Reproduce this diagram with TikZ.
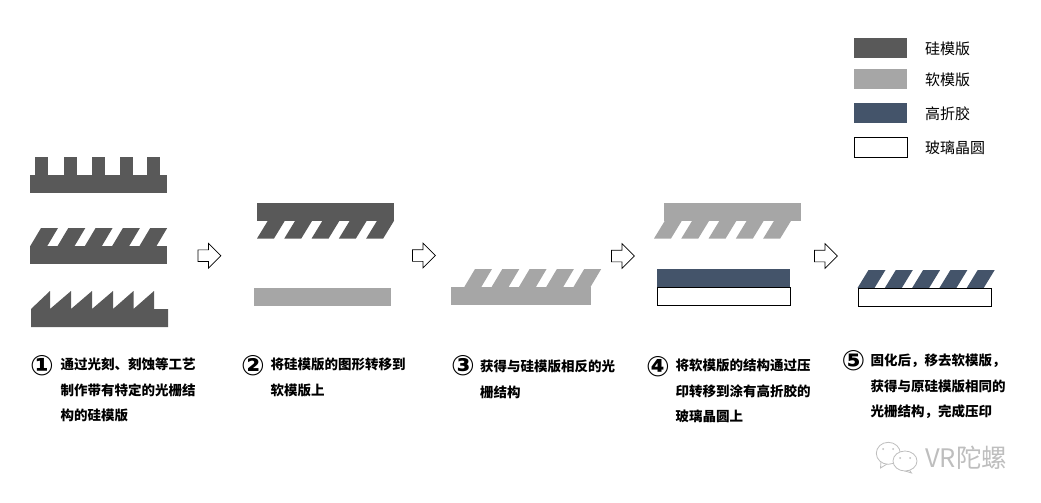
\documentclass[tikz,border=0pt]{standalone}
\usepackage{fontspec}
\setmainfont{Noto Sans CJK SC}
\newfontfamily\numfont{DejaVu Sans}
\usetikzlibrary{positioning, shapes.arrows}
\definecolor{siliconc}{HTML}{595959}
\definecolor{softc}{HTML}{A6A6A6}
\definecolor{resinc}{HTML}{44546A}
\definecolor{markc}{HTML}{BEBEBE}

% one row of five slanted teeth: colour, left x, foot y, top y
\newcommand{\slantteeth}[4]{
  \foreach \k in {0,...,4}
    \fill[#1] ({#2+27.3*\k},#3) -- ({#2+27.3*\k+17},#3) -- ({#2+27.3*\k+28},#4) -- ({#2+27.3*\k+11},#4) -- cycle;
}

\begin{document}
\begin{tikzpicture}[x=1pt,y=-1pt]
  \tikzstyle{swatch}=[minimum width=53pt,minimum height=20pt,inner sep=0pt,outer sep=0pt]
  \tikzstyle{keytext}=[inner sep=0pt,yshift=-0.7pt,font=\fontsize{15}{15}\selectfont]
  \tikzstyle{stepnum}=[inner sep=0pt,font=\numfont\bfseries\fontsize{28}{28}\selectfont]
  \tikzstyle{steptext}=[inner sep=0pt,anchor=north west,align=left,font=\bfseries\fontsize{13.5}{25.5}\selectfont]
  \tikzstyle{stepflow}=[single arrow,draw=black,fill=white,line width=0.7pt,inner xsep=0pt,inner ysep=5.5pt,minimum width=24pt,minimum height=23pt,single arrow head extend=6.5pt,single arrow tip angle=90,single arrow head indent=0pt]
  \tikzstyle{wafer}=[draw=black,fill=white,line width=0.9pt]
  \tikzstyle{markline}=[draw=markc,fill=white,line width=0.8pt]

  \useasboundingbox (0,0) rectangle (1041,503);

  % legend
  \node[swatch,fill=siliconc]  (key_si)    at (880.5,48)  {};
  \node[swatch,fill=softc]     (key_soft)  at (880.5,79)  {};
  \node[swatch,fill=resinc]    (key_resin) at (880.5,113) {};
  \node[swatch,wafer]          (key_wafer) at (880.5,147) {};
  \node[keytext] (label_si)    [right=18pt of key_si]    {硅模版};
  \node[keytext] (label_soft)  [right=18pt of key_soft]  {软模版};
  \node[keytext] (label_resin) [right=18pt of key_resin] {高折胶};
  \node[keytext] (label_wafer) [right=18pt of key_wafer] {玻璃晶圆};

  % step 1, three silicon masters
  \fill[siliconc] (30,175) rectangle (167,193);
  \foreach \x in {35,64,92,120,147}
    \fill[siliconc] (\x,157) rectangle (\x+13,175.5);
  \fill[siliconc] (30,246) rectangle (167,264);
  \slantteeth{siliconc}{30}{246.5}{228}
  \fill[siliconc] (31,327) -- (31,309) -- (50,291) -- (50,309) -- (71,291) -- (71,309)
    -- (92,291) -- (92,309) -- (113,291) -- (113,309) -- (133.5,291) -- (133.5,309)
    -- (154,291) -- (154,309) -- (168,309) -- (168,327) -- cycle;

  % step 2
  \fill[siliconc] (257,203) rectangle (394,221);
  \slantteeth{siliconc}{257}{238.5}{220.5}
  \fill[softc] (254,288) rectangle (391,306);

  % step 3
  \fill[softc] (451,287) rectangle (591,305);
  \slantteeth{softc}{464}{287.5}{269}

  % step 4
  \fill[softc] (664,203) rectangle (801,221);
  \slantteeth{softc}{654}{238.5}{220.5}
  \fill[resinc] (657,269) rectangle (790,287.5);
  \draw[wafer] (657.5,287.5) rectangle (790.5,305.5);

  % step 5
  \slantteeth{resinc}{857.5}{288}{270}
  \draw[wafer] (858.5,288.5) rectangle (991.5,306.5);

  % flow between the steps
  \node[stepflow] (flow_1) at (206.5,255.7) {};
  \node[stepflow] (flow_2) at (421,255.5)   {};
  \node[stepflow] (flow_3) at (620,256)     {};
  \node[stepflow] (flow_4) at (823,256)     {};

  % captions
  \node[stepnum]  (num_1) at (42,366)    {①};
  \node[stepnum]  (num_2) at (253,366)   {②};
  \node[stepnum]  (num_3) at (463,366)   {③};
  \node[stepnum]  (num_4) at (658,367)   {④};
  \node[stepnum]  (num_5) at (853.5,361) {⑤};
  \node[steptext] (text_1) at (60.5,358) {通过光刻、刻蚀等工艺\\制作带有特定的光栅结\\构的硅模版};
  \node[steptext] (text_2) at (270.5,358) {将硅模版的图形转移到\\软模版上};
  \node[steptext] (text_3) at (480,360)  {获得与硅模版相反的光\\栅结构};
  \node[steptext] (text_4) at (675.5,359) {将软模版的结构通过压\\印转移到涂有高折胶的\\玻璃晶圆上};
  \node[steptext] (text_5) at (870.5,354) {固化后，移去软模版，\\获得与原硅模版相同的\\光栅结构，完成压印};

  % watermark
  \draw[markline] (881,461) -- (880.5,468) -- (887,464);
  \draw[markline] (888.3,453.3) ellipse [x radius=12,y radius=11];
  \draw[markline] (908,468) -- (911.5,473) -- (902,470);
  \draw[markline] (905,461) ellipse [x radius=12,y radius=10];
  \foreach \x/\y in {883/449,893/449,900/458,910/458}
    \fill[markc] (\x,\y) circle [radius=1];
  \node[inner sep=0pt,text=markc,anchor=west,font=\fontsize{25.5}{25.5}\selectfont] (mark) at (925,458) {VR陀螺};
\end{tikzpicture}
\end{document}
